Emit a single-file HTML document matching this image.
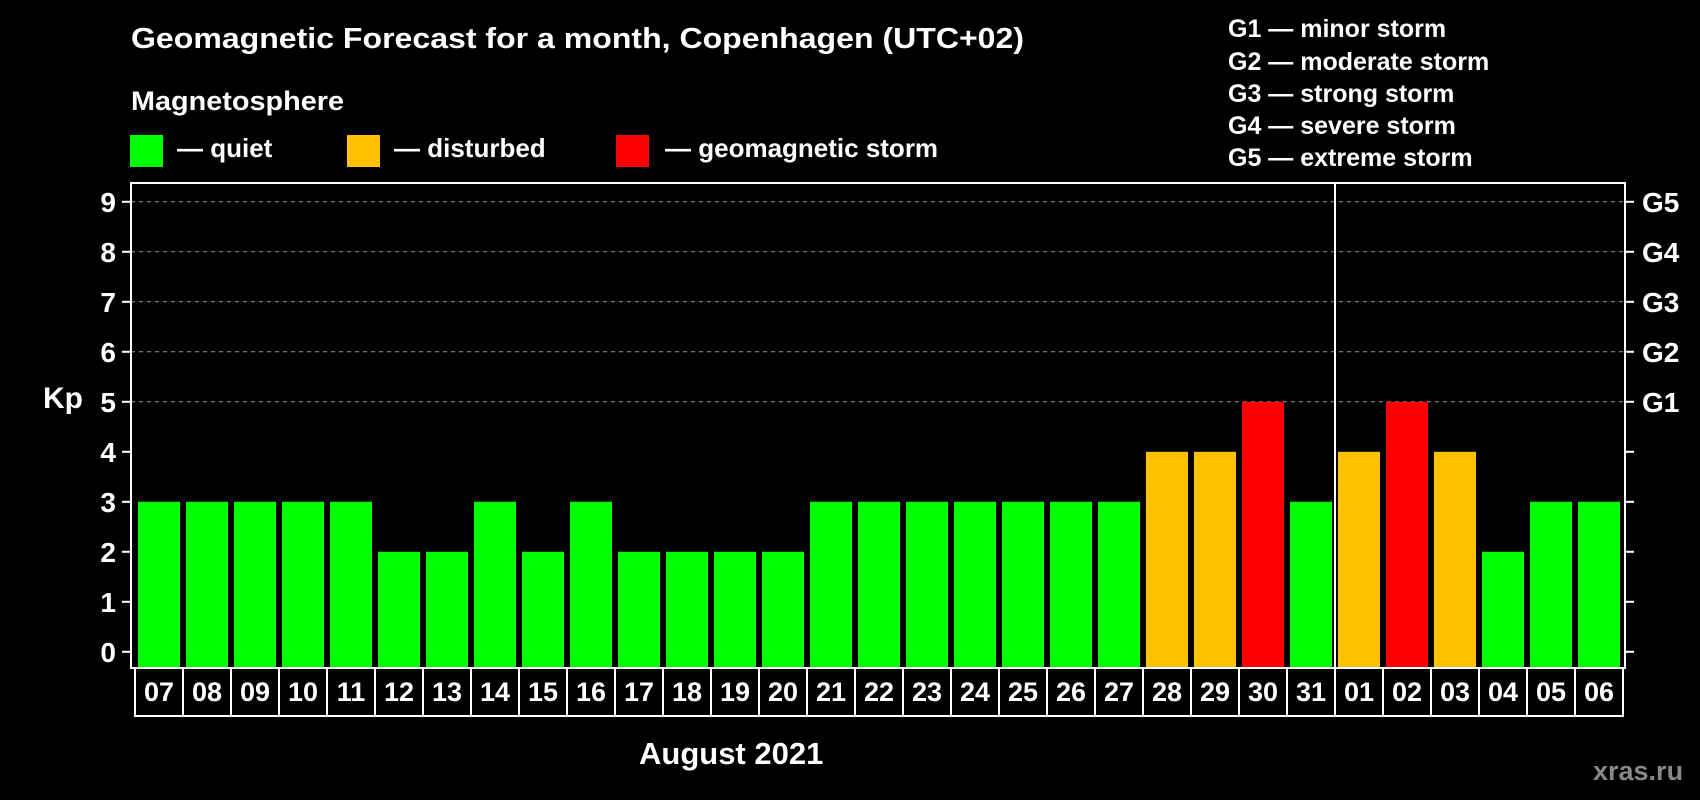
<!DOCTYPE html>
<html><head><meta charset="utf-8"><style>
html,body{margin:0;padding:0;background:#000;}
svg{display:block;font-family:"Liberation Sans",sans-serif;font-weight:bold;}
</style></head><body>
<svg id="chart" width="1700" height="800" viewBox="0 0 1700 800">
<rect x="0" y="0" width="1700" height="800" fill="#000"/>
<text x="131" y="48" fill="#fff" font-size="29" textLength="893" lengthAdjust="spacingAndGlyphs">Geomagnetic Forecast for a month, Copenhagen (UTC+02)</text>
<text x="131" y="110" fill="#fff" font-size="27" textLength="213" lengthAdjust="spacingAndGlyphs">Magnetosphere</text>
<rect x="130" y="135" width="33" height="32" fill="#00ff00"/>
<text x="177" y="157" fill="#fff" font-size="26">— quiet</text>
<rect x="347" y="135" width="33" height="32" fill="#ffc000"/>
<text x="394" y="157" fill="#fff" font-size="26">— disturbed</text>
<rect x="616" y="135" width="33" height="32" fill="#ff0000"/>
<text x="665" y="157" fill="#fff" font-size="26">— geomagnetic storm</text>
<g fill="#fff" font-size="25">
<text x="1228" y="37">G1 — minor storm</text>
<text x="1228" y="70">G2 — moderate storm</text>
<text x="1228" y="102">G3 — strong storm</text>
<text x="1228" y="134">G4 — severe storm</text>
<text x="1228" y="166">G5 — extreme storm</text>
</g>
<text x="43" y="408" fill="#fff" font-size="30">Kp</text>
<text x="639" y="764" fill="#fff" font-size="31">August 2021</text>
<text x="1593" y="780" fill="#888" font-size="27">xras.ru</text>
<g id="marks"></g>
</svg>
<script>
const days = ["07","08","09","10","11","12","13","14","15","16","17","18","19","20","21","22","23","24","25","26","27","28","29","30","31","01","02","03","04","05","06"];
const kpValues = [3,3,3,3,3,2,2,3,2,3,2,2,2,2,3,3,3,3,3,3,3,4,4,5,3,4,5,4,2,3,3];
const yTicks = [0,1,2,3,4,5,6,7,8,9];
const gLabels = ["G1","G2","G3","G4","G5"];
const gLevels = [5,6,7,8,9];
const monthBreakIndex = 25;

const NS = "http://www.w3.org/2000/svg";
const marksG = document.getElementById('marks');
const plotL = 131, plotR = 1625, plotT = 183, plotB = 668;
const barStart = 138, pitch = 48, barW = 42;
function yS(v){ return 651.8 - v * 50; }
function xS(i){ return barStart + i * pitch; }
function mk(tag, attrs){ const e = document.createElementNS(NS, tag); for (const k in attrs) e.setAttribute(k, attrs[k]); marksG.appendChild(e); return e; }
function color(v){ return v >= 5 ? "#ff0000" : (v >= 4 ? "#ffc000" : "#00ff00"); }

gLevels.forEach((v, i) => {
  const l = mk('line', {x1: plotL, x2: plotR, y1: yS(v), y2: yS(v), stroke: "#999", "stroke-width": 1, "stroke-dasharray": "4,4"});
  
  
  const t = mk('text', {x: 1642, y: yS(v) + 10, fill: "#fff", "font-size": 28});
  t.textContent = gLabels[i];
  
  
});

kpValues.forEach((v, i) => {
  const r = mk('rect', {x: xS(i), y: yS(v), width: barW, height: plotB - yS(v), fill: color(v)});
  
  
});

const frame = mk('rect', {x: plotL, y: plotT, width: plotR - plotL, height: plotB - plotT, fill: "none", stroke: "#fff", "stroke-width": 2});



const sepX = (xS(monthBreakIndex - 1) + barW + xS(monthBreakIndex)) / 2;
const sep = mk('line', {x1: sepX, x2: sepX, y1: plotT, y2: plotB, stroke: "#fff", "stroke-width": 2});



yTicks.forEach(v => {
  const tl = mk('line', {x1: 122, x2: plotL, y1: yS(v), y2: yS(v), stroke: "#fff", "stroke-width": 2});
  
  
  const tr = mk('line', {x1: plotR, x2: 1634, y1: yS(v), y2: yS(v), stroke: "#fff", "stroke-width": 2});
  
  
  const t = mk('text', {x: 116, y: yS(v) + 10, fill: "#fff", "font-size": 28, "text-anchor": "end"});
  t.textContent = v;
  
  
});

const boxL = 135, boxBottom = 716;
days.forEach((d, i) => {
  const x0 = boxL + i * pitch;
  const vl = mk('line', {x1: x0, x2: x0, y1: plotB, y2: boxBottom, stroke: "#fff", "stroke-width": 2});
  
  
  const t = mk('text', {x: x0 + 24, y: 701, fill: "#fff", "font-size": 27, "text-anchor": "middle"});
  t.textContent = d;
  
  
});
const lastX = boxL + days.length * pitch;
const vlast = mk('line', {x1: lastX, x2: lastX, y1: plotB, y2: boxBottom, stroke: "#fff", "stroke-width": 2});


const hb = mk('line', {x1: boxL - 1, x2: lastX + 1, y1: boxBottom, y2: boxBottom, stroke: "#fff", "stroke-width": 2});


</script>
</body></html>
